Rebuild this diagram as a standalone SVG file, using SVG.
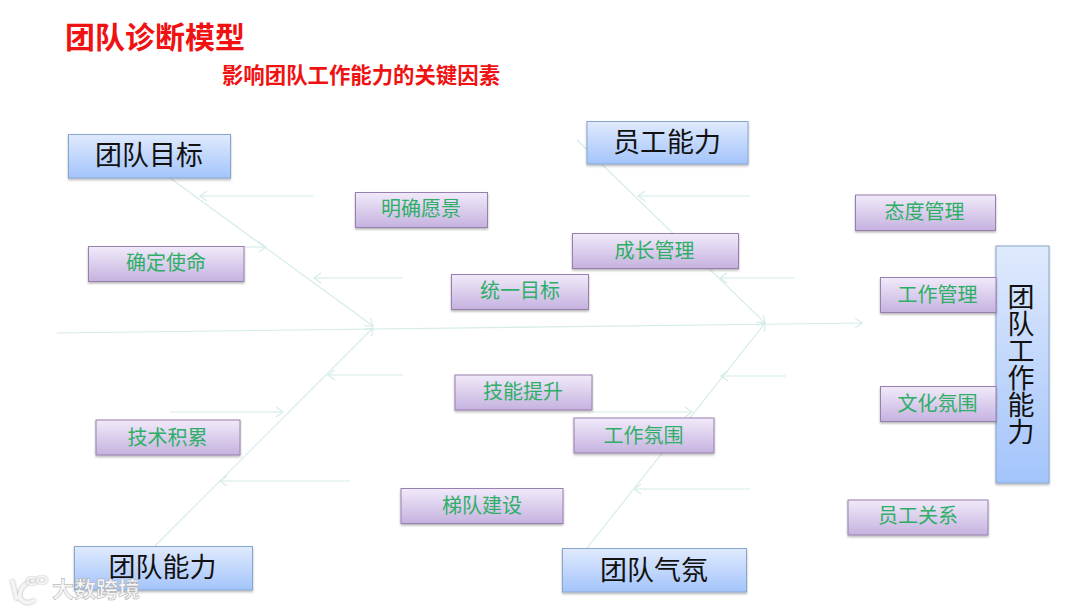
<svg xmlns="http://www.w3.org/2000/svg" width="1080" height="608" viewBox="0 0 1080 608">
<style>
text{font-family:"Noto Sans CJK SC","Noto Sans",sans-serif;text-anchor:middle;dominant-baseline:central}
.b rect{fill:url(#blue);stroke:#87a6cc;stroke-width:1;filter:url(#sh)}
.b text{font-size:27px;fill:#111}
.p rect{fill:url(#pur);stroke:#9880ae;stroke-width:1;filter:url(#sh)}
.p text{font-size:20px;fill:#2fae68}
.t{fill:#f01212;font-weight:700}
#links line{stroke:#d3ebe9;stroke-width:1.1;fill:none;marker-end:url(#a)}
.wm{fill:#f6f6f6;stroke:#a8a8a8;stroke-width:.5;font-size:22px;font-weight:700}
.lg{fill:none;stroke:#f4f4f4;stroke-width:3.500;filter:url(#sh2)}
</style>
<defs>
<linearGradient id="blue" x1="0" y1="0" x2="0" y2="1"><stop offset="0" stop-color="#e0eafd"/><stop offset="1" stop-color="#a3c4fb"/></linearGradient>
<linearGradient id="pur" x1="0" y1="0" x2="0" y2="1"><stop offset="0" stop-color="#f1eafa"/><stop offset="1" stop-color="#c5b2df"/></linearGradient>
<filter id="sh" x="-10%" y="-15%" width="120%" height="135%"><feDropShadow dx="0" dy="1.5" stdDeviation="1" flood-color="#000" flood-opacity=".3"/></filter>
<filter id="sh2" x="-20%" y="-20%" width="140%" height="140%"><feDropShadow dx="0" dy="0" stdDeviation="1" flood-color="#777" flood-opacity=".7"/></filter>
<marker id="a" markerWidth="9" markerHeight="12" refX="8" refY="6" orient="auto" markerUnits="userSpaceOnUse"><path d="M1 1L8 6L1 11" fill="none" stroke="#d3ebe9" stroke-width="1.1"/></marker>
</defs>
<rect width="1080" height="608" fill="#fff"/>
<text class="t" x="155" y="35" font-size="30">团队诊断模型</text>
<text class="t" x="361" y="73" font-size="21.400">影响团队工作能力的关键因素</text>
<g id="links">
<line x1="57" y1="333" x2="862" y2="323"/>
<line x1="170" y1="178" x2="373" y2="326"/>
<line x1="577" y1="140" x2="765" y2="323"/>
<line x1="155" y1="546" x2="373" y2="328"/>
<line x1="587" y1="548" x2="765" y2="323"/>
<line x1="313" y1="196" x2="200" y2="196"/>
<line x1="244" y1="247" x2="266" y2="247"/>
<line x1="403" y1="278" x2="314" y2="278"/>
<line x1="403" y1="375" x2="328" y2="375"/>
<line x1="170" y1="412" x2="283" y2="412"/>
<line x1="350" y1="481" x2="220" y2="481"/>
<line x1="750" y1="196" x2="638" y2="196"/>
<line x1="794" y1="278" x2="720" y2="278"/>
<line x1="786" y1="376" x2="721" y2="376"/>
<line x1="592" y1="412" x2="692" y2="412"/>
<line x1="750" y1="489" x2="634" y2="489"/>
</g>
<g id="n1" class="b"><rect x="68.500" y="134.500" width="162" height="43.500"/><text x="149" y="153.500">团队目标</text></g>
<g id="n2" class="b"><rect x="587" y="121.500" width="161" height="42.500"/><text x="667" y="140.500">员工能力</text></g>
<g id="n3" class="b"><rect x="74.500" y="546.500" width="178" height="43.500"/><text x="162.500" y="565.500">团队能力</text></g>
<g id="n4" class="b"><rect x="562.500" y="548.500" width="184" height="43.500"/><text x="654" y="568.500">团队气氛</text></g>
<g id="n5" class="b"><rect x="996" y="246" width="53" height="237"/><text x="1021" y="364" style="writing-mode:vertical-rl;dominant-baseline:auto" letter-spacing="0">团队工作能力</text></g>
<g id="n6" class="p"><rect x="355.500" y="192.500" width="132" height="35"/><text x="421" y="207.500">明确愿景</text></g>
<g id="n7" class="p"><rect x="88.500" y="246.500" width="155.500" height="35"/><text x="166" y="261">确定使命</text></g>
<g id="n8" class="p"><rect x="451.500" y="274.500" width="137" height="35"/><text x="520" y="289.500">统一目标</text></g>
<g id="n9" class="p"><rect x="572.500" y="233.500" width="166" height="35"/><text x="654.500" y="249">成长管理</text></g>
<g id="n10" class="p"><rect x="855.500" y="195" width="140" height="35.500"/><text x="924.500" y="210">态度管理</text></g>
<g id="n11" class="p"><rect x="880.500" y="277.500" width="115.500" height="35"/><text x="937.500" y="293">工作管理</text></g>
<g id="n12" class="p"><rect x="880.500" y="386.500" width="115.500" height="35"/><text x="937.500" y="402">文化氛围</text></g>
<g id="n13" class="p"><rect x="848" y="500" width="140" height="35"/><text x="918" y="514.500">员工关系</text></g>
<g id="n14" class="p"><rect x="96" y="420" width="144" height="35"/><text x="167.500" y="436">技术积累</text></g>
<g id="n15" class="p"><rect x="455" y="375" width="137" height="35"/><text x="523" y="390">技能提升</text></g>
<g id="n16" class="p"><rect x="574" y="418" width="140" height="35"/><text x="643.500" y="434">工作氛围</text></g>
<g id="n17" class="p"><rect x="401" y="488.500" width="162" height="35"/><text x="482" y="504">梯队建设</text></g>
<path class="lg" d="M12 580L17 600M30 581Q18 588 20 598Q25 606 35 600"/>
<ellipse class="lg" cx="32" cy="581" rx="4.500" ry="3.500" style="stroke-width:2"/><ellipse class="lg" cx="42" cy="580" rx="4.500" ry="3.500" style="stroke-width:2"/>
<text class="wm" x="96" y="587">大数跨境</text>
</svg>
